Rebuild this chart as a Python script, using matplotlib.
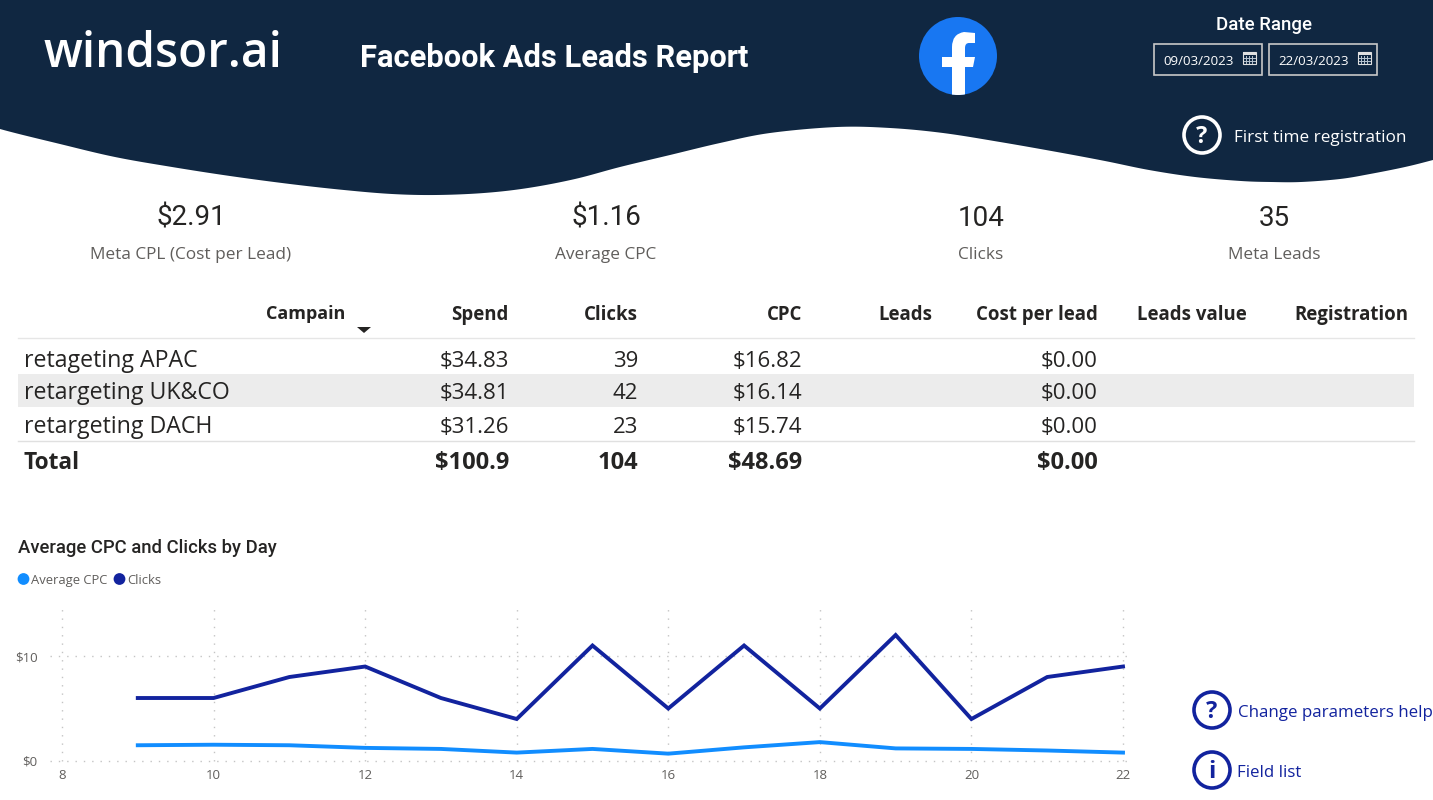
import numpy as np
import matplotlib
matplotlib.use("Agg")
import matplotlib.pyplot as plt
from matplotlib.patches import Circle, PathPatch, Polygon, Rectangle
from matplotlib.path import Path

NAVY = "#102741"
LIGHT_BLUE = "#118dff"
DARK_BLUE = "#12239e"
INK = "#252423"
GREY = "#605e5c"

# chart data
days = [9, 10, 11, 12, 13, 14, 15, 16, 17, 18, 19, 20, 21, 22]
clicks = [6, 6, 8, 9, 6, 4, 11, 5, 11, 5, 12, 4, 8, 9]
avg_cpc = [1.5, 1.55, 1.5, 1.25, 1.15, 0.8, 1.15, 0.7, 1.3, 1.8, 1.2, 1.15, 1.0, 0.8]

# table data
columns = ["Spend", "Clicks", "CPC", "Leads", "Cost per lead", "Leads value", "Registration"]
campaigns = ["retageting APAC", "retargeting UK&CO", "retargeting DACH"]
spend = ["$34.83", "$34.81", "$31.26"]
camp_clicks = ["39", "42", "23"]
cpc = ["$16.82", "$16.14", "$15.74"]
cost_per_lead = ["$0.00", "$0.00", "$0.00"]
totals = ["$100.9", "104", "$48.69", "", "$0.00", "", ""]

# KPI cards
kpi_values = ["$2.91", "$1.16", "104", "35"]
kpi_labels = ["Meta CPL (Cost per Lead)", "Average CPC", "Clicks", "Meta Leads"]

# header wave outline, in pixels
wave_x = [-40, 0, 60, 115, 172, 230, 290, 344, 392, 436, 484, 528, 575, 620, 670, 720, 770, 837, 890, 943,
          1000, 1057, 1105, 1149, 1195, 1241, 1271, 1301, 1340, 1370, 1405, 1433, 1470]
wave_y = [116, 129, 144, 157, 167, 176, 184, 190, 194, 195, 193, 188, 179, 167, 155, 143, 133, 127, 128, 133,
          142, 152, 161, 170, 177, 181, 182, 182, 179, 174, 167, 160, 150]


def smooth(xs, ys, steps=12):
    # catmull-rom through the outline points
    pts = np.column_stack((xs, ys)).astype(float)
    out = []
    for i in range(1, len(pts) - 2):
        p0, p1, p2, p3 = pts[i - 1], pts[i], pts[i + 1], pts[i + 2]
        for t in np.linspace(0, 1, steps, endpoint=False):
            out.append(0.5 * (2 * p1 + (p2 - p0) * t + (2 * p0 - 5 * p1 + 4 * p2 - p3) * t ** 2
                              + (3 * p1 - p0 - 3 * p2 + p3) * t ** 3))
    out.append(pts[-2])
    return np.array(out)


def axes_px(fig, left, top, right, bottom):
    return fig.add_axes([left / 1433, 1 - bottom / 800, (right - left) / 1433, (bottom - top) / 800])


fig = plt.figure(figsize=(14.33, 8), dpi=100, facecolor="white")

# overlay in pixel coordinates for the report furniture
bg = fig.add_axes([0, 0, 1, 1])
bg.set_xlim(0, 1433)
bg.set_ylim(800, 0)
bg.axis("off")

curve = smooth(wave_x, wave_y)
bg.add_patch(Polygon(np.vstack(([[curve[0][0], -5]], curve, [[curve[-1][0], -5]])), closed=True, fc=NAVY, ec="none"))


def put(x, y, s, size, color=INK, ha="left", family="Open Sans", weight="normal"):
    # y is the middle of the capitals, so a row of texts shares one baseline
    base = y + 0.35 * size * 100 / 72
    bg.text(x, base, s, fontsize=size, color=color, ha=ha, va="baseline", family=family, weight=weight)


put(44, 50, "windsor.ai", 34.3, "white", family="Open Sans", weight="semibold")
put(360, 56, "Facebook Ads Leads Report", 22.2, "white", family="Roboto", weight="bold")
put(1264, 23, "Date Range", 13.4, "white", ha="center", family="Roboto", weight="medium")
put(1234, 136, "First time registration", 12.3, "white")

# facebook logo
logo = Circle((958, 56), 39, fc="#1877f2", ec="none")
bg.add_patch(logo)
f_verts = [(952, 96), (952, 67), (942, 67), (942, 57), (952, 57), (952, 47), (952, 34), (964, 32), (975, 33),
           (975, 43), (969, 43), (965, 43), (965, 48), (965, 57), (975, 57), (973, 67), (965, 67), (965, 96), (952, 96)]
f_codes = [Path.MOVETO, Path.LINETO, Path.LINETO, Path.LINETO, Path.LINETO, Path.LINETO,
           Path.CURVE3, Path.CURVE3, Path.LINETO, Path.LINETO, Path.LINETO, Path.CURVE3, Path.CURVE3,
           Path.LINETO, Path.LINETO, Path.LINETO, Path.LINETO, Path.LINETO, Path.CLOSEPOLY]
f_mark = PathPatch(Path(f_verts, f_codes), fc="white", ec="none")
bg.add_patch(f_mark)
f_mark.set_clip_path(logo)

# date slicer boxes
for left, label in [(1154, "09/03/2023"), (1269, "22/03/2023")]:
    bg.add_patch(Rectangle((left, 44), 108, 31, fc="none", ec="#c8c8c8", lw=1.2))
    put(left + 44.5, 60, label, 9.6, "white", ha="center")
    bg.add_patch(Rectangle((left + 89, 52), 13, 12, fc=NAVY, ec="#e0e0e0", lw=0.8))
    bg.add_patch(Rectangle((left + 89, 52), 13, 3, fc="#e0e0e0", ec="none"))
    for gx in (left + 92, left + 95, left + 98):
        bg.plot([gx, gx], [56, 63], color="#b8c4d0", lw=0.7)
    for gy in (58, 60.5):
        bg.plot([left + 90, left + 101], [gy, gy], color="#b8c4d0", lw=0.7)

# help icons
for cx, cy, col, mark in [(1202, 135, "white", "?"), (1212, 710, DARK_BLUE, "?"), (1212, 770, DARK_BLUE, "i")]:
    bg.add_patch(Circle((cx, cy), 18, fc="none", ec=col, lw=2.6))
    put(cx, cy, mark, 17, col, ha="center", weight="bold")

put(1238, 711, "Change parameters help", 12.2, DARK_BLUE)
put(1237, 771, "Field list", 12.2, DARK_BLUE)

# KPI cards
for cx, val, lab in zip([191, 606, 981, 1274], kpi_values, kpi_labels):
    put(cx, 216, val, 20, INK, ha="center", family="Roboto")
    put(cx, 253, lab, 12.4, GREY, ha="center")

# table
col_right = [509, 638, 802, 932, 1098, 1247, 1408]
row_y = [359, 391, 425]
put(345, 313, "Campain", 13, INK, ha="right", weight="bold")
for right, name in zip(col_right, columns):
    put(right, 313, name, 13.4, INK, ha="right", weight="bold")
bg.add_patch(Polygon([(357, 327), (371, 327), (364, 333)], closed=True, fc=INK, ec="none"))
bg.add_patch(Rectangle((18, 374), 1396, 33, fc="#ececec", ec="none", zorder=0))
bg.plot([18, 1414], [338, 338], color="#e6e6e6", lw=1)
bg.plot([18, 1414], [441, 441], color="#e0e0e0", lw=1)

for i, y in enumerate(row_y):
    put(24, y, campaigns[i], 16.7, INK)
    put(col_right[0], y, spend[i], 16, INK, ha="right")
    put(col_right[1], y, camp_clicks[i], 16, INK, ha="right")
    put(col_right[2], y, cpc[i], 16, INK, ha="right")
    put(col_right[4], y, cost_per_lead[i], 16, INK, ha="right")

put(24, 461, "Total", 16.3, INK, weight="bold")
for right, val in zip(col_right, totals):
    put(right, 461, val, 17, INK, ha="right", weight="bold")

# line chart
put(18, 547, "Average CPC and Clicks by Day", 13.3, INK, family="Roboto", weight="medium")
bg.scatter([23.5, 119.5], [579, 579], s=72, c=[LIGHT_BLUE, DARK_BLUE], linewidths=0)
put(31, 579, "Average CPC", 9.4, GREY)
put(127, 579, "Clicks", 9.4, GREY)

ax = axes_px(fig, 50, 605, 1128, 761)
ax.patch.set_alpha(0)
ax.set_xlim(8 - 12 / 75.79, 22 + 5 / 75.79)
ax.set_ylim(0, 14.86)
ax.plot(days, clicks, color=DARK_BLUE, lw=2.8, solid_joinstyle="miter", clip_on=False, zorder=3)
ax.plot(days, avg_cpc, color=LIGHT_BLUE, lw=2.8, clip_on=False, zorder=3)
ax.set_xticks(range(8, 23, 2))
ax.set_yticks([0, 10])
ax.set_yticklabels(["$0", "$10"])
ax.grid(True, color="#c4c4c4", ls=(0, (1, 5)), lw=1, clip_on=False)
ax.tick_params(length=0, colors=GREY, labelsize=9.5, pad=6)
ax.tick_params(axis="y", pad=9)
for label in ax.get_xticklabels() + ax.get_yticklabels():
    label.set_family("Open Sans")
for s in ax.spines.values():
    s.set_visible(False)

fig.savefig("out.png", dpi=100)
